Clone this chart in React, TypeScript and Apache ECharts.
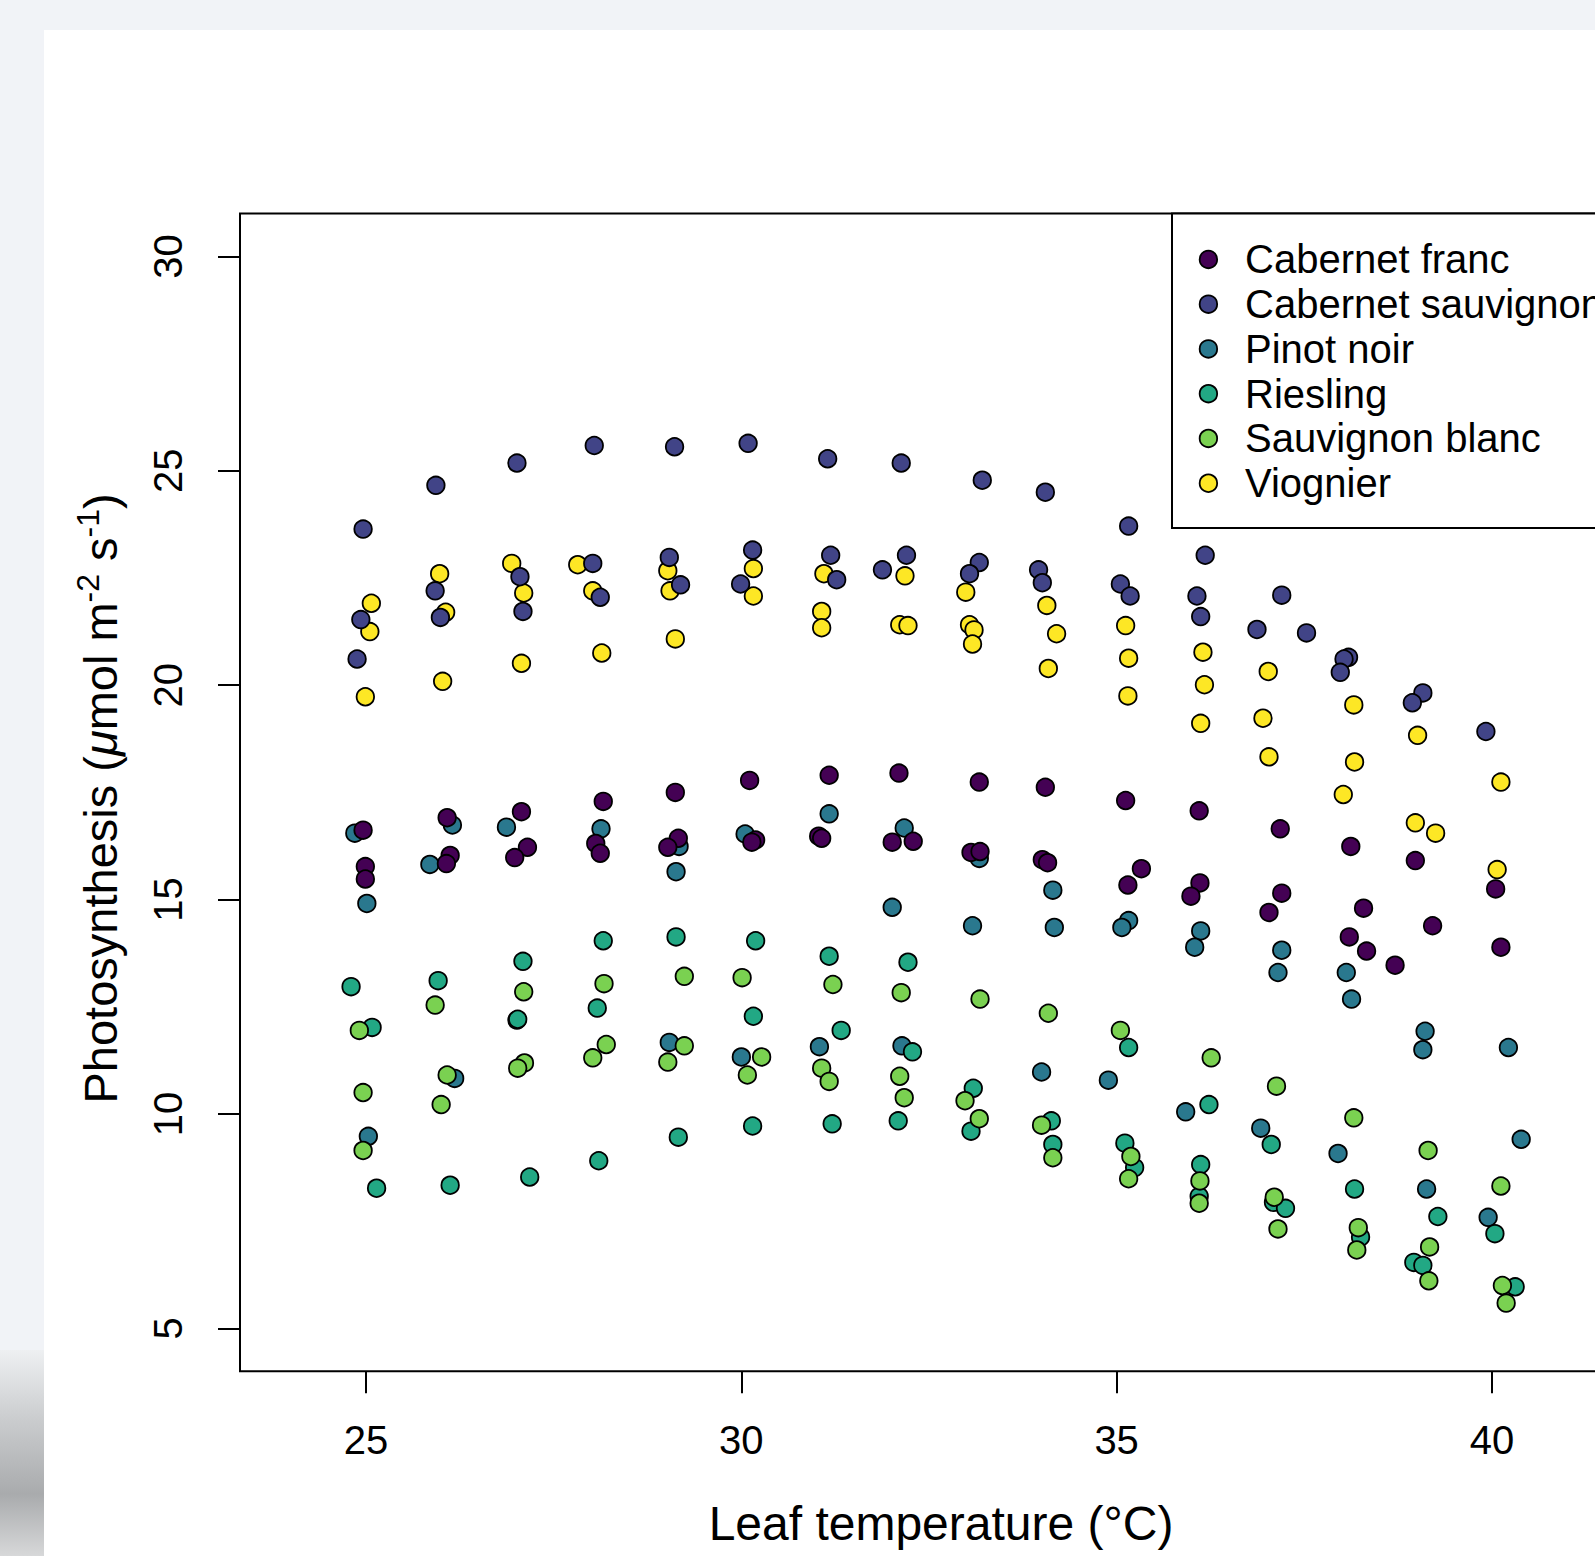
import React, { useEffect, useRef } from "react";
import * as echarts from "echarts";

// ---------- data (leaf temperature °C, photosynthesis µmol m-2 s-1) ----------
const VARIETIES = [
  "Cabernet franc",
  "Cabernet sauvignon",
  "Pinot noir",
  "Riesling",
  "Sauvignon blanc",
  "Viognier",
];
const COLORS = ["#440154", "#414487", "#2A788E", "#22A884", "#7AD151", "#FDE725"];

const cabernetFranc: [number, number][] = [
  [24.96, 16.62], [24.99, 15.77], [24.99, 15.48],
  [26.08, 16.91], [26.12, 16.03], [26.07, 15.84],
  [27.07, 17.05], [27.15, 16.22], [26.98, 15.98],
  [28.16, 17.29], [28.06, 16.31], [28.12, 16.08],
  [29.12, 17.5], [29.16, 16.43], [29.02, 16.22],
  [30.11, 17.78], [30.19, 16.39], [30.14, 16.34],
  [31.17, 17.9], [31.03, 16.48], [31.07, 16.43],
  [32.1, 17.95], [32.01, 16.34], [32.29, 16.36],
  [33.17, 17.74], [33.06, 16.1], [33.18, 16.12],
  [34.05, 17.62], [34.01, 15.93], [34.08, 15.86],
  [35.12, 17.31], [35.33, 15.72], [35.15, 15.34],
  [36.1, 17.07], [36.11, 15.39], [35.99, 15.08],
  [37.18, 16.65], [37.2, 15.15], [37.03, 14.7],
  [38.12, 16.24], [38.29, 14.8], [38.1, 14.13], [38.33, 13.8],
  [38.98, 15.91], [39.21, 14.39], [38.71, 13.47],
  [40.05, 15.25], [40.12, 13.89],
];

const cabernetSauvignon: [number, number][] = [
  [24.96, 23.64], [24.93, 21.53], [24.88, 20.61],
  [25.93, 24.66], [25.92, 22.2], [25.99, 21.58],
  [27.01, 25.18], [27.05, 22.53], [27.09, 21.72],
  [28.04, 25.59], [28.02, 22.84], [28.12, 22.05],
  [29.11, 25.56], [29.04, 22.98], [29.19, 22.34],
  [30.09, 25.64], [30.15, 23.15], [29.99, 22.36],
  [31.15, 25.28], [31.19, 23.03], [31.27, 22.46],
  [32.13, 25.18], [32.2, 23.03], [31.88, 22.69],
  [33.21, 24.78], [33.17, 22.86], [33.04, 22.6],
  [34.05, 24.5], [33.96, 22.69], [34.01, 22.39],
  [35.16, 23.71], [35.05, 22.36], [35.18, 22.08],
  [36.18, 23.03], [36.07, 22.08], [36.12, 21.6],
  [37.2, 22.1], [36.87, 21.3], [37.53, 21.22],
  [38.09, 20.65], [38.03, 20.61], [37.98, 20.3],
  [39.08, 19.82], [38.94, 19.59],
  [39.92, 18.92],
];

const pinotNoir: [number, number][] = [
  [24.85, 16.55], [25.01, 14.91], [25.03, 9.48],
  [26.15, 16.74], [25.85, 15.82], [26.18, 10.83],
  [26.87, 16.69], [27.01, 12.19],
  [28.13, 16.65],
  [29.17, 16.24], [29.13, 15.65], [29.04, 11.67],
  [30.05, 16.53], [30.0, 11.33],
  [31.17, 17.0], [31.04, 11.57],
  [32.17, 16.67], [32.01, 14.82], [32.14, 11.59],
  [33.17, 15.96], [33.08, 14.39],
  [34.15, 15.22], [34.17, 14.35], [34.0, 10.98],
  [35.16, 14.51], [35.07, 14.35], [34.89, 10.79],
  [36.12, 14.27], [36.04, 13.89], [35.92, 10.05],
  [37.2, 13.82], [37.15, 13.3], [36.92, 9.67],
  [38.06, 13.3], [38.13, 12.68], [37.95, 9.08],
  [39.11, 11.93], [39.08, 11.5], [39.13, 8.25],
  [40.22, 11.55], [40.39, 9.41], [39.95, 7.59],
];

const riesling: [number, number][] = [
  [24.8, 12.97], [25.08, 12.02], [25.14, 8.27],
  [25.96, 13.11], [26.12, 8.34],
  [27.09, 13.56], [27.02, 12.21], [27.18, 8.53],
  [28.16, 14.04], [28.08, 12.47], [28.1, 8.91],
  [29.13, 14.13], [29.16, 9.46],
  [30.19, 14.04], [30.16, 12.28], [30.15, 9.72],
  [31.17, 13.68], [31.33, 11.95], [31.21, 9.77],
  [32.22, 13.54], [32.28, 11.45], [32.09, 9.84],
  [33.09, 10.6], [33.06, 9.6],
  [34.13, 9.84], [34.15, 9.29],
  [35.16, 11.55], [35.11, 9.32], [35.24, 8.75],
  [36.23, 10.22], [36.12, 8.82], [36.1, 8.08],
  [37.06, 9.29], [37.09, 7.94], [37.25, 7.8],
  [38.17, 8.25], [38.25, 7.13],
  [39.28, 7.61], [38.96, 6.54], [39.08, 6.47],
  [40.04, 7.21], [40.31, 5.97],
];

const sauvignonBlanc: [number, number][] = [
  [24.91, 11.95], [24.96, 10.5], [24.96, 9.15],
  [25.92, 12.54], [26.08, 10.91], [26.0, 10.22],
  [27.1, 12.85], [27.11, 11.19], [27.02, 11.07],
  [28.17, 13.04], [28.2, 11.62], [28.02, 11.31],
  [29.24, 13.21], [29.24, 11.59], [29.02, 11.21],
  [30.01, 13.18], [30.27, 11.33], [30.08, 10.91],
  [31.22, 13.02], [31.07, 11.07], [31.17, 10.76],
  [32.13, 12.83], [32.11, 10.88], [32.17, 10.38],
  [33.18, 12.68], [32.98, 10.31], [33.17, 9.89],
  [34.09, 12.35], [34.0, 9.74], [34.15, 8.98],
  [35.05, 11.95], [35.19, 9.01], [35.16, 8.49],
  [36.26, 11.31], [36.11, 8.44], [36.1, 7.92],
  [37.13, 10.65], [37.1, 8.06], [37.15, 7.32],
  [38.16, 9.91], [38.22, 7.35], [38.2, 6.83],
  [39.15, 9.15], [39.17, 6.9], [39.16, 6.11],
  [40.12, 8.32], [40.14, 6.0], [40.19, 5.59],
];

const viognier: [number, number][] = [
  [25.07, 21.91], [25.05, 21.25], [24.99, 19.73],
  [25.98, 22.6], [26.06, 21.7], [26.02, 20.09],
  [26.94, 22.84], [27.1, 22.15], [27.07, 20.51],
  [27.82, 22.81], [28.02, 22.2], [28.14, 20.75],
  [29.02, 22.67], [29.05, 22.2], [29.12, 21.08],
  [30.16, 22.72], [30.16, 22.08],
  [31.1, 22.6], [31.07, 21.72], [31.07, 21.34],
  [32.18, 22.55], [32.11, 21.41], [32.22, 21.39],
  [32.99, 22.17], [33.04, 21.41], [33.1, 21.29], [33.08, 20.96],
  [34.07, 21.86], [34.2, 21.2], [34.09, 20.39],
  [35.12, 21.39], [35.16, 20.63], [35.15, 19.75],
  [36.15, 20.77], [36.17, 20.01], [36.12, 19.11],
  [37.02, 20.32], [36.95, 19.23], [37.03, 18.33],
  [38.16, 19.54], [38.17, 18.21], [38.02, 17.45],
  [39.01, 18.83], [38.98, 16.79], [39.25, 16.55],
  [40.12, 17.74], [40.07, 15.7],
];

const SERIES_DATA = [cabernetFranc, cabernetSauvignon, pinotNoir, riesling, sauvignonBlanc, viognier];
// stacking order of the points (higher is drawn on top)
const DRAW_Z = [5, 6, 2, 3, 4, 1];

const X_TICKS = [25, 30, 35, 40];
const Y_TICKS = [5, 10, 15, 20, 25, 30];
const X_TITLE = "Leaf temperature (°C)";

const FONT = "'Liberation Sans', Arial, Helvetica, sans-serif";

export default function App() {
  const ref = useRef<HTMLDivElement>(null);

  useEffect(() => {
    if (!ref.current) return;
    const chart = echarts.init(ref.current, undefined, { renderer: "svg" });

    const gridLeft = 196;
    const gridTop = 183.5;
    const gridWidth = 1402;
    const gridHeight = 1157.8;
    const symbolSize = 17.5;
    const border = 1.8;

    // legend geometry (chart pixel space)
    const legX = 1128;
    const legH = 314.5;
    const legSymX = 1164.4;
    const legTextX = 1201;
    const legRow0 = 229.4;
    const legRowGap = 44.76;

    const legendEls: any[] = [
      {
        type: "rect",
        z: 100,
        shape: { x: legX, y: gridTop, width: 700, height: legH },
        style: { fill: "#fff", stroke: "#000", lineWidth: 2 },
      },
    ];
    VARIETIES.forEach((name, i) => {
      const cy = legRow0 + i * legRowGap;
      legendEls.push({
        type: "circle",
        z: 101,
        shape: { cx: legSymX, cy, r: symbolSize / 2 },
        style: { fill: COLORS[i], stroke: "#000", lineWidth: border },
      });
      legendEls.push({
        type: "text",
        z: 101,
        x: legTextX,
        y: cy,
        style: {
          text: name,
          fill: "#000",
          font: `40px ${FONT}`,
          textAlign: "left",
          textVerticalAlign: "middle",
        },
      });
    });

    const axisCommon = {
      axisLine: { show: false },
      splitLine: { show: false },
      axisTick: {
        show: true,
        inside: false,
        length: 22,
        lineStyle: { color: "#000", width: 2 },
      },
    };

    chart.setOption({
      animation: false,
      backgroundColor: "#ffffff",
      textStyle: { fontFamily: FONT, color: "#000" },
      grid: {
        left: gridLeft,
        top: gridTop,
        width: gridWidth,
        height: gridHeight,
        show: true,
        borderColor: "#000",
        borderWidth: 2,
        backgroundColor: "transparent",
        containLabel: false,
        outerBoundsMode: "none",
      },
      xAxis: {
        type: "value",
        min: 23.32,
        max: 42.0,
        ...axisCommon,
        axisTick: { ...axisCommon.axisTick, customValues: X_TICKS },
        axisLabel: {
          customValues: X_TICKS,
          margin: 69,
          fontSize: 40,
          fontFamily: FONT,
          color: "#000",
          verticalAlign: "middle",
          align: "center",
        },
        name: X_TITLE,
        nameLocation: "middle",
        nameGap: 152,
        nameMoveOverlap: false,
        nameTextStyle: {
          fontSize: 48,
          fontFamily: FONT,
          color: "#000",
          verticalAlign: "middle",
          align: "center",
        },
      },
      yAxis: {
        type: "value",
        min: 4,
        max: 31,
        ...axisCommon,
        axisTick: { ...axisCommon.axisTick, customValues: Y_TICKS },
        axisLabel: {
          customValues: Y_TICKS,
          rotate: 90,
          margin: 72,
          fontSize: 40,
          fontFamily: FONT,
          color: "#000",
          verticalAlign: "middle",
          align: "center",
        },
        name: "{a|Photosynthesis (}{i|μ}{a|mol m}{s|-2}{a| s}{s|-1}{a|)}",
        nameLocation: "middle",
        nameRotate: 90,
        nameGap: 140,
        nameMoveOverlap: false,
        nameTextStyle: {
          fontSize: 47,
          fontFamily: FONT,
          color: "#000",
          verticalAlign: "middle",
          align: "center",
          padding: [0, 12, 0, 0],
          rich: {
            a: { fontSize: 47, fontFamily: FONT, color: "#000", lineHeight: 56 },
            i: { fontSize: 47, fontFamily: FONT, color: "#000", lineHeight: 56, fontStyle: "italic" },
            s: { fontSize: 32, fontFamily: FONT, color: "#000", lineHeight: 46, verticalAlign: "top" },
          },
        },
      },
      series: VARIETIES.map((name, i) => ({
        name,
        type: "scatter",
        z: DRAW_Z[i],
        data: SERIES_DATA[i],
        symbol: "circle",
        symbolSize,
        itemStyle: { color: COLORS[i], borderColor: "#000", borderWidth: border, opacity: 1 },
        emphasis: { disabled: true },
      })),
      graphic: legendEls,
    });

    return () => chart.dispose();
  }, []);

  return (
    <div
      style={{
        position: "fixed",
        left: 0,
        top: 0,
        width: 1595,
        height: 1556,
        overflow: "hidden",
        background: "#F1F3F7",
      }}
    >
      <div
        style={{
          position: "absolute",
          left: 0,
          top: 1350,
          width: 44,
          height: 206,
          background: "linear-gradient(180deg, #eef0f2 0%, #c9cbcd 35%, #a9abad 70%, #d7d8d9 100%)",
        }}
      />
      <div
        ref={ref}
        style={{ position: "absolute", left: 44, top: 30, width: 1700, height: 1526 }}
      />
    </div>
  );
}
